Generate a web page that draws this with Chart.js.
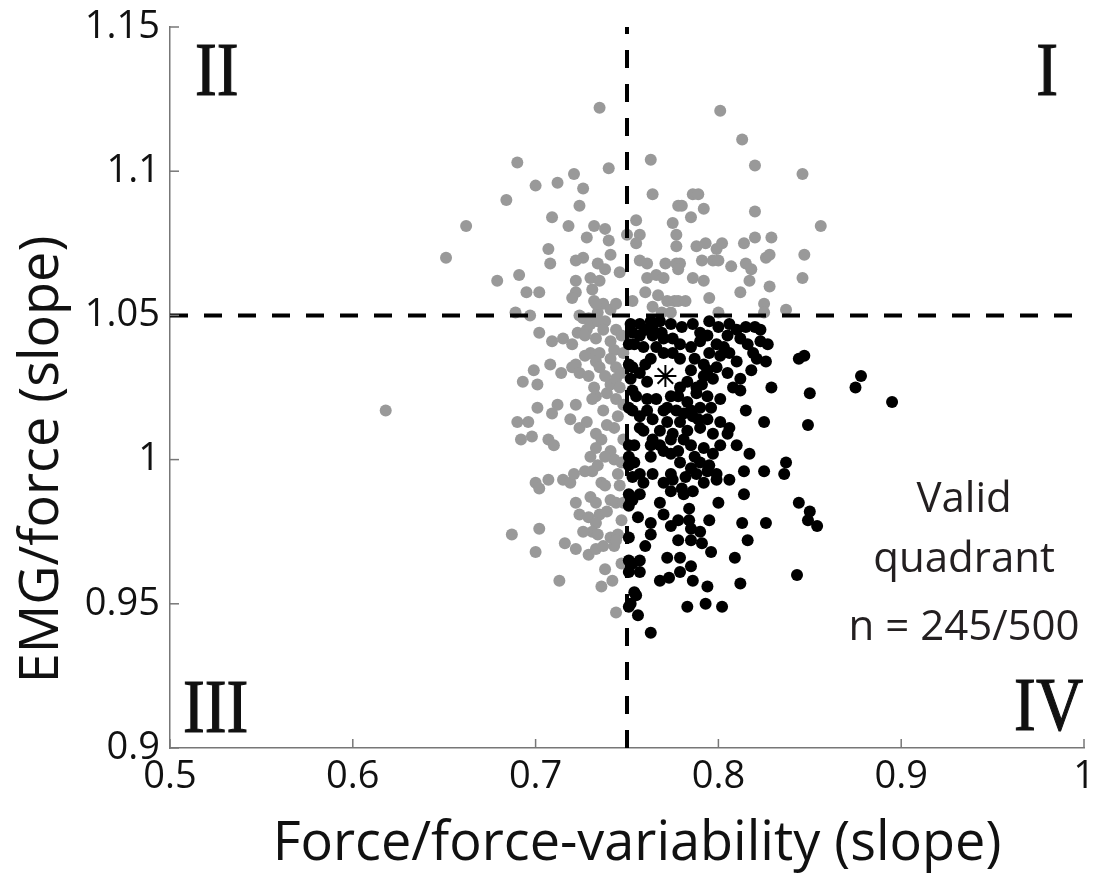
<!DOCTYPE html>
<html>
<head>
<meta charset="utf-8">
<title>EMG/force vs force/force-variability</title>
<script src="https://cdn.jsdelivr.net/npm/chart.js@4.4.1/dist/chart.umd.min.js"></script>
<style>
  html, body { margin: 0; padding: 0; background: #fff; }
  #chart { display: block; }
</style>
</head>
<body>
<canvas id="chart" width="1103" height="873"></canvas>
<script>
const xTicks = [0.5, 0.6, 0.7, 0.8, 0.9, 1];
const yTicks = [0.9, 0.95, 1, 1.05, 1.1, 1.15];
const xCut = 0.75;
const yCut = 1.05;

// simulations outside the valid quadrant (grey)
const otherPoints = [
  [0.735,1.122],[0.690,1.103],[0.740,1.101],[0.763,1.104],[0.721,1.099],[0.712,1.096],[0.700,1.095],[0.726,1.094],[0.684,1.090],[0.764,1.092],
  [0.724,1.088],[0.778,1.088],[0.709,1.084],[0.718,1.081],[0.732,1.081],[0.738,1.080],[0.728,1.077],[0.740,1.076],[0.755,1.083],[0.757,1.078],
  [0.750,1.078],[0.755,1.075],[0.707,1.073],[0.741,1.071],[0.726,1.070],[0.722,1.069],[0.708,1.068],[0.734,1.068],[0.738,1.066],[0.746,1.065],
  [0.757,1.069],[0.761,1.068],[0.691,1.064],[0.679,1.062],[0.722,1.062],[0.730,1.063],[0.735,1.062],[0.695,1.058],[0.702,1.058],[0.722,1.058],
  [0.720,1.056],[0.731,1.059],[0.732,1.055],[0.737,1.054],[0.734,1.051],[0.741,1.052],[0.729,1.049],[0.738,1.048],[0.753,1.055],[0.760,1.058],
  [0.761,1.063],[0.766,1.064],[0.770,1.063],[0.771,1.068],[0.777,1.068],[0.775,1.082],[0.777,1.078],[0.777,1.074],[0.767,1.057],[0.772,1.055],
  [0.776,1.055],[0.689,1.051],[0.697,1.050],[0.724,1.050],[0.764,1.053],[0.769,1.051],[0.774,1.051],
  [0.801,1.121],[0.813,1.111],[0.820,1.102],[0.846,1.099],[0.786,1.092],[0.789,1.092],[0.780,1.088],[0.792,1.087],[0.785,1.084],[0.820,1.086],
  [0.856,1.081],[0.788,1.074],[0.793,1.075],[0.799,1.073],[0.802,1.075],[0.814,1.075],[0.820,1.077],[0.829,1.077],[0.779,1.068],[0.778,1.066],
  [0.791,1.069],[0.797,1.069],[0.800,1.069],[0.807,1.067],[0.815,1.068],[0.818,1.066],[0.826,1.070],[0.828,1.071],[0.847,1.071],[0.846,1.063],
  [0.786,1.063],[0.792,1.062],[0.817,1.062],[0.828,1.060],[0.795,1.056],[0.812,1.058],[0.778,1.055],[0.782,1.055],[0.825,1.054],[0.825,1.051],
  [0.800,1.051],[0.837,1.052],
  [0.662,1.081],[0.651,1.070],[0.618,1.017],[0.687,0.974],
  [0.702,1.044],[0.709,1.041],[0.715,1.042],[0.720,1.040],[0.723,1.044],[0.728,1.045],[0.727,1.043],[0.733,1.042],[0.726,1.049],[0.730,1.047],
  [0.734,1.048],[0.733,1.054],[0.744,1.054],[0.744,1.045],[0.730,1.037],[0.735,1.037],[0.743,1.038],[0.748,1.037],[0.733,1.034],[0.741,1.035],
  [0.744,1.032],[0.735,1.032],[0.708,1.033],[0.714,1.030],[0.720,1.032],[0.722,1.033],[0.724,1.030],[0.729,1.029],[0.699,1.031],[0.693,1.027],
  [0.701,1.026],[0.732,1.025],[0.733,1.022],[0.731,1.021],[0.739,1.023],[0.741,1.026],[0.744,1.028],[0.746,1.025],[0.747,1.030],[0.712,1.019],
  [0.709,1.016],[0.701,1.018],[0.722,1.019],[0.744,1.021],[0.745,1.015],[0.743,1.011],[0.690,1.013],[0.696,1.013],[0.719,1.014],[0.724,1.011],
  [0.728,1.013],[0.733,1.009],[0.736,1.007],[0.733,1.004],[0.741,1.003],[0.743,1.000],[0.730,1.001],[0.734,0.998],[0.692,1.007],[0.698,1.008],
  [0.707,1.007],[0.710,1.005],
  [0.731,0.996],[0.700,0.992],[0.702,0.990],[0.707,0.993],[0.715,0.993],[0.719,0.992],[0.721,0.995],[0.736,0.992],[0.738,0.991],[0.745,0.995],
  [0.746,0.991],[0.722,0.985],[0.730,0.987],[0.733,0.985],[0.741,0.986],[0.744,0.985],[0.724,0.981],[0.729,0.980],[0.735,0.981],[0.733,0.978],
  [0.747,0.979],[0.702,0.976],[0.731,0.975],[0.734,0.974],[0.741,0.973],[0.745,0.974],[0.716,0.971],[0.722,0.969],[0.700,0.968],[0.729,0.967],
  [0.733,0.969],[0.737,0.970],[0.743,0.970],[0.744,0.972],[0.713,0.958],[0.736,0.956],[0.744,0.947],
  [0.737,1.045],[0.741,1.041],[0.747,1.043],[0.738,1.029],[0.727,1.036],[0.737,1.017],[0.748,1.019],[0.739,1.012],[0.748,1.007],[0.738,1.001],
  [0.747,0.999],[0.727,0.996],[0.739,0.982],[0.748,0.985],[0.726,0.975],[0.738,0.962],[0.747,0.964],[0.742,0.958]
];

// simulations in the valid quadrant IV (black)
const validPoints = [
  [0.752,1.047],[0.753,1.044],[0.751,1.040],[0.754,1.040],[0.751,1.033],[0.753,1.032],[0.752,1.028],[0.753,1.024],[0.751,1.018],[0.753,1.017],
  [0.751,1.005],[0.751,1.001],[0.754,0.999],[0.751,0.998],[0.753,0.994],[0.751,0.988],[0.753,0.986],[0.751,0.984],[0.751,0.973],[0.751,0.965],
  [0.753,0.964],[0.751,0.961],[0.754,0.954],[0.752,0.950],[0.751,0.949],[0.756,0.946],[0.757,1.047],[0.763,1.048],[0.768,1.048],[0.774,1.047],
  [0.764,1.046],[0.786,1.047],[0.795,1.048],[0.806,1.047],[0.810,1.045],[0.820,1.046],[0.757,1.043],[0.764,1.043],[0.770,1.042],[0.775,1.042],
  [0.779,1.040],[0.759,1.039],[0.785,1.039],[0.794,1.043],[0.799,1.040],[0.803,1.039],[0.812,1.042],[0.816,1.040],[0.823,1.041],[0.827,1.040],
  [0.770,1.037],[0.775,1.037],[0.779,1.035],[0.763,1.035],[0.795,1.037],[0.801,1.036],[0.806,1.037],[0.792,1.033],[0.819,1.037],[0.821,1.035],
  [0.826,1.034],[0.757,1.030],[0.785,1.031],[0.794,1.031],[0.799,1.032],[0.797,1.028],[0.792,1.029],[0.818,1.031],[0.812,1.028],[0.808,1.025],
  [0.812,1.024],[0.829,1.025],[0.779,1.025],[0.788,1.025],[0.755,1.022],[0.761,1.021],[0.766,1.021],[0.774,1.022],[0.778,1.022],[0.783,1.020],
  [0.788,1.023],[0.794,1.022],[0.801,1.021],[0.790,1.018],[0.761,1.017],[0.770,1.017],[0.777,1.017],[0.785,1.017],[0.757,1.015],[0.764,1.014],
  [0.772,1.013],[0.779,1.013],[0.786,1.015],[0.794,1.014],[0.801,1.013],[0.806,1.011],[0.825,1.013],[0.759,1.010],[0.768,1.010],[0.775,1.009],
  [0.783,1.010],[0.790,1.011],[0.797,1.009],[0.805,1.009],[0.764,1.007],[0.774,1.007],[0.781,1.007],[0.754,1.005],[0.763,1.005],[0.770,1.003],
  [0.785,1.005],[0.792,1.004],[0.801,1.005],[0.810,1.005],[0.763,1.001],[0.774,1.002],[0.797,1.002],[0.757,0.995],[0.764,0.995],[0.779,0.999],
  [0.785,0.997],[0.790,0.999],[0.794,0.996],[0.799,0.995],[0.814,0.996],[0.825,0.996],[0.836,0.995],[0.837,0.999],[0.774,0.995],[0.759,0.992],
  [0.770,0.992],[0.775,0.993],[0.782,0.994],[0.788,0.995],[0.799,0.993],[0.768,0.985],[0.774,0.989],[0.781,0.988],[0.786,0.989],[0.800,0.985],
  [0.814,0.988],[0.770,0.981],[0.763,0.978],[0.763,0.974],[0.774,0.977],[0.778,0.979],[0.784,0.979],[0.785,0.976],[0.790,0.975],[0.778,0.972],
  [0.785,0.972],[0.791,0.971],[0.796,0.968],[0.813,0.978],[0.826,0.978],[0.816,0.972],[0.809,0.966],[0.757,0.965],[0.757,0.961],[0.772,0.966],
  [0.779,0.961],[0.785,0.963],[0.768,0.958],[0.773,0.959],[0.786,0.958],[0.794,0.956],[0.812,0.957],[0.755,0.953],[0.783,0.949],[0.793,0.950],
  [0.802,0.949],[0.763,0.940],[0.823,1.045],[0.844,1.035],[0.847,1.036],[0.878,1.029],[0.875,1.025],[0.850,1.023],[0.895,1.020],[0.849,1.012],
  [0.844,0.985],[0.850,0.982],[0.849,0.979],[0.854,0.977],[0.843,0.960],
  [0.760,1.045],[0.769,1.044],[0.780,1.046],[0.790,1.044],[0.800,1.046],[0.815,1.046],[0.766,1.039],[0.790,1.041],[0.805,1.043],[0.760,1.033],
  [0.787,1.035],[0.783,1.027],[0.791,1.026],[0.805,1.030],[0.761,1.027],[0.772,1.018],[0.781,1.016],[0.789,1.014],[0.796,1.018],[0.768,1.005],
  [0.778,1.003],[0.787,1.001],[0.795,0.998],[0.780,0.990],[0.792,0.992],[0.806,0.993],[0.757,0.988],[0.756,0.980],[0.760,0.970],[0.779,0.966],
  [0.817,1.002],[0.815,1.017],[0.810,1.034],[0.757,1.011],[0.784,0.983],[0.795,0.979]
];

// mean of all simulations (asterisk)
const meanPoint = [[0.771, 1.029]];

const toXY = pts => pts.map(([x, y]) => ({ x, y }));

const annotations = {
  id: 'annotations',
  afterDraw(chart) {
    const { ctx, scales: { x, y } } = chart;
    ctx.save();

    // inward tick marks along the two axes
    ctx.strokeStyle = '#777';
    ctx.lineWidth = 1.5;
    xTicks.forEach(v => {
      const px = x.getPixelForValue(v);
      ctx.beginPath();
      ctx.moveTo(px, y.bottom);
      ctx.lineTo(px, y.bottom - 9);
      ctx.stroke();
    });
    yTicks.forEach(v => {
      const py = y.getPixelForValue(v);
      ctx.beginPath();
      ctx.moveTo(x.left, py);
      ctx.lineTo(x.left + 9, py);
      ctx.stroke();
    });

    // quadrant numerals
    ctx.fillStyle = '#111';
    ctx.font = '76px "Liberation Serif"';
    ctx.textBaseline = 'alphabetic';
    const numeral = (txt, xv, yv, align) => {
      ctx.save();
      ctx.translate(x.getPixelForValue(xv), y.getPixelForValue(yv));
      ctx.scale(0.86, 1);
      ctx.textAlign = align;
      ctx.lineWidth = 1.2;
      ctx.strokeStyle = '#111';
      ctx.fillText(txt, 0, 0);
      ctx.strokeText(txt, 0, 0);
      ctx.restore();
    };
    numeral('II', 0.5137, 1.1264, 'left');
    numeral('I', 0.9858, 1.1264, 'right');
    numeral('III', 0.5071, 0.9057, 'left');
    numeral('IV', 0.9995, 0.9062, 'right');

    // valid quadrant note
    ctx.fillStyle = '#231f20';
    ctx.font = '42px "Open Sans"';
    ctx.textAlign = 'center';
    const noteX = x.getPixelForValue(0.9344);
    ctx.fillText('Valid', noteX, y.getPixelForValue(0.9819));
    ctx.fillText('quadrant', noteX, y.getPixelForValue(0.9611));
    ctx.fillText('n = 245/500', noteX, y.getPixelForValue(0.9374));

    // axis titles
    ctx.fillStyle = '#111';
    ctx.font = '54px "Open Sans"';
    ctx.fillText('Force/force-variability (slope)', (x.left + x.right) / 2 + 10, 860);
    ctx.translate(58, (y.top + y.bottom) / 2 + 72);
    ctx.rotate(-Math.PI / 2);
    ctx.fillText('EMG/force (slope)', 0, 0);

    ctx.restore();
  }
};

const tickFont = { family: 'Open Sans', size: 38 };
const tickText = v => String(+v.toFixed(2));

new Chart(document.getElementById('chart'), {
  type: 'scatter',
  data: {
    datasets: [
      {
        label: 'mean',
        data: toXY(meanPoint),
        pointStyle: 'star',
        pointRadius: 11,
        borderColor: '#000',
        borderWidth: 2,
        order: 0
      },
      {
        label: 'mean halo',
        data: toXY(meanPoint),
        pointStyle: 'star',
        pointRadius: 11,
        borderColor: '#fff',
        borderWidth: 6,
        order: 1
      },
      {
        label: 'valid quadrant',
        data: toXY(validPoints),
        backgroundColor: '#000',
        borderWidth: 0,
        pointRadius: 6,
        order: 2
      },
      {
        type: 'line',
        label: 'force cut',
        data: [{ x: xCut, y: yTicks[0] }, { x: xCut, y: yTicks[yTicks.length - 1] }],
        showLine: true,
        borderColor: '#000',
        borderWidth: 4,
        borderDash: [18, 16],
        pointRadius: 0,
        order: 3
      },
      {
        type: 'line',
        label: 'EMG cut',
        data: [{ x: xTicks[0], y: yCut }, { x: xTicks[xTicks.length - 1], y: yCut }],
        showLine: true,
        borderColor: '#000',
        borderWidth: 4,
        borderDash: [18, 16],
        pointRadius: 0,
        order: 3
      },
      {
        label: 'other',
        data: toXY(otherPoints),
        backgroundColor: '#999',
        borderWidth: 0,
        pointRadius: 6,
        order: 4
      }
    ]
  },
  options: {
    responsive: false,
    animation: false,
    devicePixelRatio: 1,
    layout: { padding: { top: 27, right: 19, left: 0, bottom: 0 } },
    plugins: {
      legend: { display: false },
      tooltip: { enabled: false }
    },
    scales: {
      x: {
        type: 'linear',
        min: xTicks[0],
        max: xTicks[xTicks.length - 1],
        afterBuildTicks: s => { s.ticks = xTicks.map(v => ({ value: v })); },
        afterFit: s => { s.height = 125; s.paddingLeft = 0; s.paddingRight = 0; },
        grid: { display: false, drawTicks: false },
        border: { display: true, color: '#777', width: 1.5 },
        ticks: { font: tickFont, color: '#111', padding: 6, maxRotation: 0, autoSkip: false, callback: tickText }
      },
      y: {
        type: 'linear',
        min: yTicks[0],
        max: yTicks[yTicks.length - 1],
        afterBuildTicks: s => { s.ticks = yTicks.map(v => ({ value: v })); },
        afterFit: s => { s.width = 170; s.paddingTop = 0; s.paddingBottom = 0; },
        grid: { display: false, drawTicks: false },
        border: { display: true, color: '#777', width: 1.5 },
        ticks: { font: tickFont, color: '#111', padding: 10, autoSkip: false, callback: tickText }
      }
    }
  },
  plugins: [annotations]
});
</script>
</body>
</html>
